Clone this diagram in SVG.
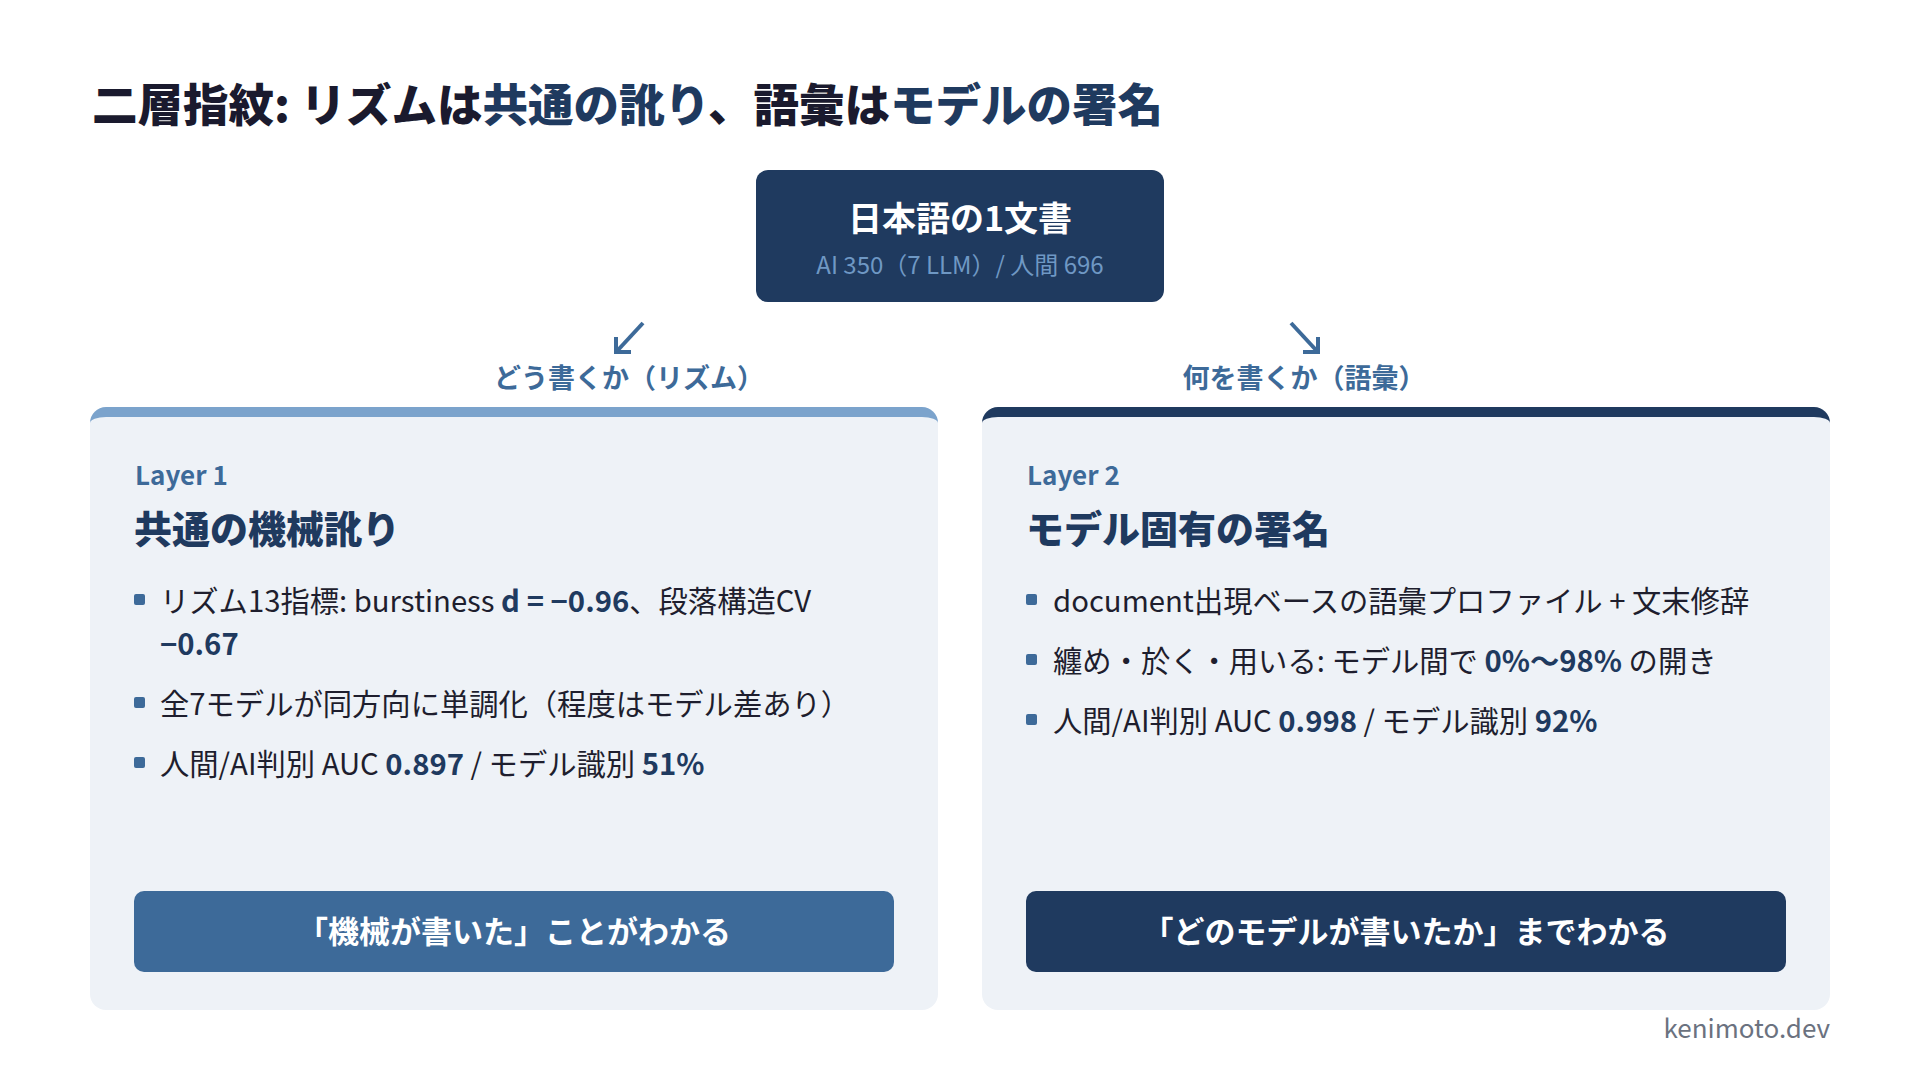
<svg xmlns="http://www.w3.org/2000/svg" width="1920" height="1080" viewBox="0 0 1920 1080">
<style>
text{font-family:"Noto Sans CJK JP","Noto Sans",sans-serif;}
.title{font-size:45.5px;font-weight:900;fill:#1a1a2e;}
.navy{fill:#1f3a5f;}
.nodeT{font-size:34px;font-weight:700;fill:#ffffff;}
.nodeS{font-size:24px;font-weight:400;fill:#6f98c4;}
.lab{font-size:27px;font-weight:700;fill:#3d6a99;}
.layer{font-size:26px;font-weight:600;fill:#3d6a99;}
.ctitle{font-size:38px;font-weight:900;fill:#1f3a5f;}
.body{font-size:29.3px;font-weight:400;fill:#1e1e2e;}
.b{font-weight:700;fill:#1f3a5f;}
.btnT{font-size:31px;font-weight:700;fill:#ffffff;}
.card{fill:#eef2f7;}
.dot{fill:#3d6a99;}
.conn{stroke:#3d6a99;stroke-width:4;fill:none;stroke-linecap:butt;}
.foot{font-size:26px;font-weight:400;fill:#6b7280;}
</style>
<rect width="1920" height="1080" fill="#ffffff"/>

<text class="title" x="92" y="122">二層指紋: リズムは<tspan class="navy">共通の訛り</tspan>、語彙は<tspan class="navy">モデルの署名</tspan></text>

<g id="node-doc">
<rect x="756" y="170" width="408" height="132" rx="12" fill="#1f3a5f"/>
<text class="nodeT" x="960" y="231" text-anchor="middle">日本語の1文書</text>
<text class="nodeS" x="960" y="274" text-anchor="middle">AI 350（7 LLM）/ 人間 696</text>
</g>

<g id="connectors">
<path class="conn" d="M643,323 L618,350"/>
<path class="conn" d="M616,337 V352 H631"/>
<path class="conn" d="M1291,323 L1316,350"/>
<path class="conn" d="M1318,337 V352 H1303"/>
<text class="lab" x="629" y="388" text-anchor="middle">どう書くか（リズム）</text>
<text class="lab" x="1304" y="388" text-anchor="middle">何を書くか（語彙）</text>
</g>

<g id="card-layer1">
<path d="M90,423 A16,16 0 0 1 106,407 H922 A16,16 0 0 1 938,423 Z" fill="#7ba3cc"/>
<path class="card" d="M90,423 A16,6 0 0 1 106,417 H922 A16,6 0 0 1 938,423 V994 A16,16 0 0 1 922,1010 H106 A16,16 0 0 1 90,994 Z"/>
<text class="layer" x="135" y="485">Layer 1</text>
<text class="ctitle" x="134" y="543">共通の機械訛り</text>
<rect class="dot" x="134" y="594" width="11" height="11" rx="2"/>
<text class="body" x="160" y="612">リズム13指標: burstiness <tspan class="b">d = −0.96</tspan>、段落構造CV</text>
<text class="body b" x="160" y="655">−0.67</text>
<rect class="dot" x="134" y="697" width="11" height="11" rx="2"/>
<text class="body" x="160" y="715">全7モデルが同方向に単調化（程度はモデル差あり）</text>
<rect class="dot" x="134" y="757" width="11" height="11" rx="2"/>
<text class="body" x="160" y="775">人間/AI判別 AUC <tspan class="b">0.897</tspan> / モデル識別 <tspan class="b">51%</tspan></text>
<rect x="134" y="891" width="760" height="81" rx="10" fill="#3d6a99"/>
<text class="btnT" x="514" y="943" text-anchor="middle">「機械が書いた」ことがわかる</text>
</g>

<g id="card-layer2">
<path d="M982,423 A16,16 0 0 1 998,407 H1814 A16,16 0 0 1 1830,423 Z" fill="#1f3a5f"/>
<path class="card" d="M982,423 A16,6 0 0 1 998,417 H1814 A16,6 0 0 1 1830,423 V994 A16,16 0 0 1 1814,1010 H998 A16,16 0 0 1 982,994 Z"/>
<text class="layer" x="1027" y="485">Layer 2</text>
<text class="ctitle" x="1026" y="543">モデル固有の署名</text>
<rect class="dot" x="1026" y="594" width="11" height="11" rx="2"/>
<text class="body" x="1053" y="612">document出現ベースの語彙プロファイル + 文末修辞</text>
<rect class="dot" x="1026" y="654" width="11" height="11" rx="2"/>
<text class="body" x="1053" y="672">纏め・於く・用いる: モデル間で <tspan class="b">0%〜98%</tspan> の開き</text>
<rect class="dot" x="1026" y="714" width="11" height="11" rx="2"/>
<text class="body" x="1053" y="732">人間/AI判別 AUC <tspan class="b">0.998</tspan> / モデル識別 <tspan class="b">92%</tspan></text>
<rect x="1026" y="891" width="760" height="81" rx="10" fill="#1f3a5f"/>
<text class="btnT" x="1406" y="943" text-anchor="middle">「どのモデルが書いたか」までわかる</text>
</g>

<text class="foot" x="1830" y="1038" text-anchor="end">kenimoto.dev</text>
</svg>
